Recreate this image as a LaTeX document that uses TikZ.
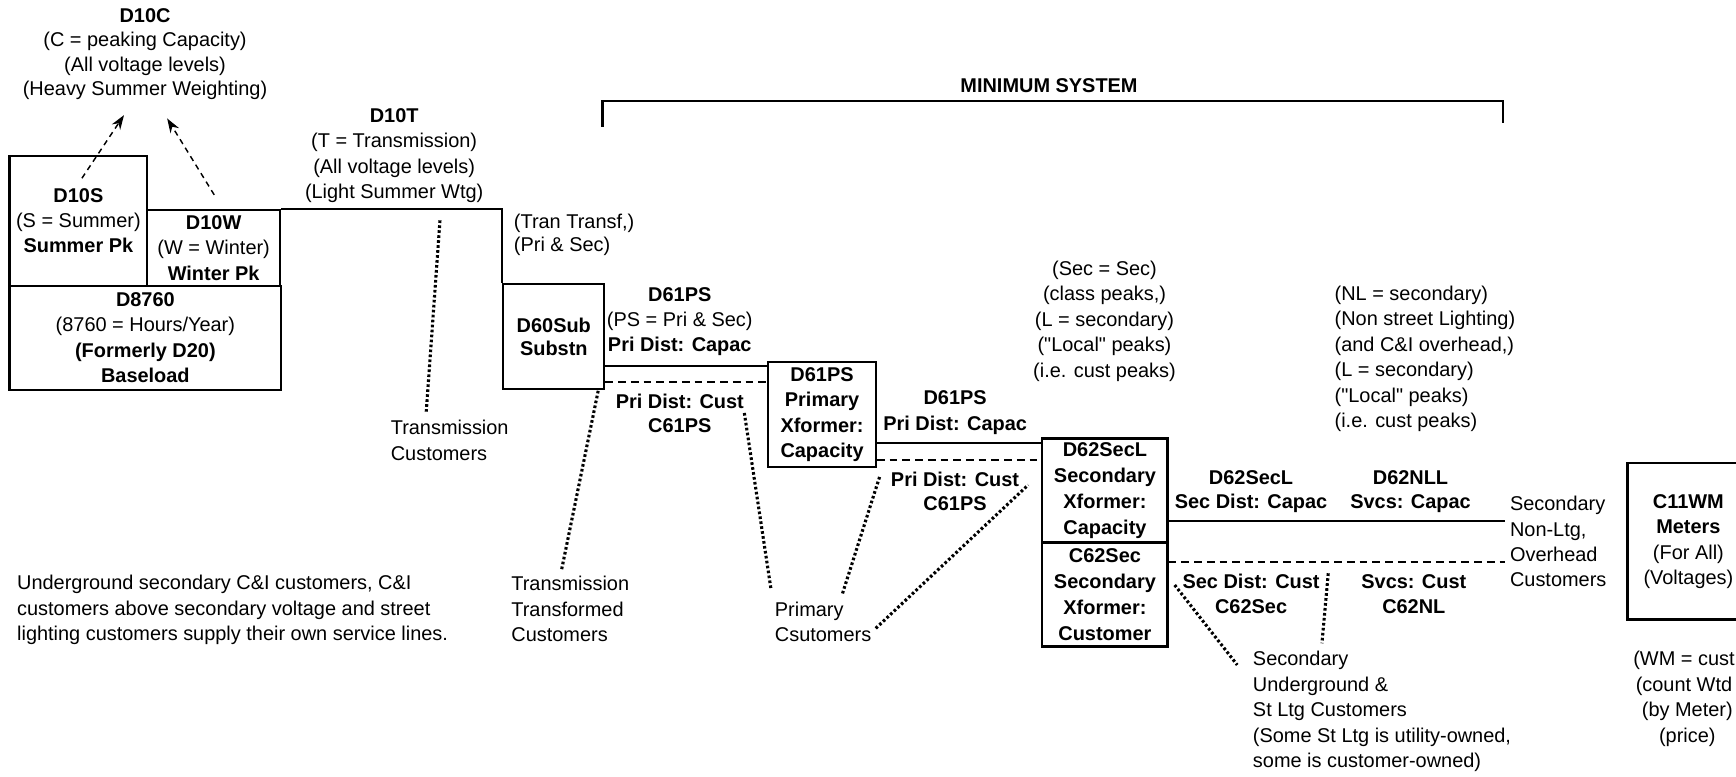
\documentclass[tikz,border=0pt]{standalone}
\usepackage{fontspec}
\setmainfont{Liberation Sans}
\usetikzlibrary{arrows.meta,calc}
\begin{document}
\begin{tikzpicture}[x=1pt,y=-1pt,
  every node/.style={inner sep=0pt, font=\fontsize{18}{23}\selectfont},
  box/.style={draw, line width=2pt, inner sep=0pt, align=center},
  txt/.style={align=center},
  ltxt/.style={align=left, anchor=west},
  solidline/.style={line width=1.8pt},
  dashline/.style={line width=1.8pt, dash pattern=on 7pt off 4.5pt},
  dotline/.style={line width=2.8pt, dash pattern=on 2.4pt off 2.1pt},
  dasharrow/.style={line width=1.3pt, dash pattern=on 5pt off 4pt, -{Stealth[length=13pt,width=9pt]}},
  bracket/.style={line width=2.2pt}]
\useasboundingbox[fill=white] (0,0) rectangle (1568,701);

% ---------- boxes ----------
\node[box, minimum width=124.4pt, minimum height=117.4pt] (d10s) at (70.8,199.3)
  {\textbf{D10S}\\(S = Summer)\\\textbf{Summer Pk}};
\node[box, minimum width=120pt, minimum height=68pt] (d10w) at (193,224)
  {\textbf{D10W}\\(W = Winter)\\\textbf{Winter Pk}};
\node[box, minimum width=245.4pt, minimum height=94pt] (d8760) at (131.3,305)
  {\textbf{D8760}\\(8760 = Hours/Year)\\\textbf{(Formerly D20)}\\\textbf{Baseload}};
\node[box, font=\fontsize{18}{21}\selectfont\bfseries, minimum width=91.3pt, minimum height=95.2pt] (d60) at (500.2,304)
  {D60Sub\\Substn};
\node[box, font=\fontsize{18}{23}\selectfont\bfseries, minimum width=97pt, minimum height=95.3pt] (d61) at (742.5,374.3)
  {D61PS\\Primary\\Xformer:\\Capacity};
\node[box, font=\fontsize{18}{23.5}\selectfont\bfseries, minimum width=113pt, minimum height=94pt] (d62) at (998,443)
  {D62SecL\\Secondary\\Xformer:\\Capacity};
\node[box, font=\fontsize{18}{23.5}\selectfont\bfseries, minimum width=113pt, minimum height=94pt] (c62) at (998,537)
  {C62Sec\\Secondary\\Xformer:\\Customer};
\node[box, minimum width=110pt, minimum height=141pt] (c11) at (1525,489)
  {\textbf{C11WM}\\\textbf{Meters}\\(For All)\\(Voltages)};

% ---------- texts ----------
\node[txt, font=\fontsize{18}{22}\selectfont] (d10c) at (131,49)
  {\textbf{D10C}\\(C = peaking Capacity)\\(All voltage levels)\\(Heavy Summer Weighting)};
\node[txt] (d10t) at (356,140.5)
  {\textbf{D10T}\\(T = Transmission)\\(All voltage levels)\\(Light Summer Wtg)};
\node[ltxt, font=\fontsize{18}{21}\selectfont] (tran) at (464,212)
  {(Tran Transf,)\\(Pri \& Sec)};
\node[font=\fontsize{18}{23}\selectfont\bfseries] (mins) at (947.5,77) {MINIMUM SYSTEM};
\node[txt] (l61a) at (614,290.5)
  {\textbf{D61PS}\\(PS = Pri \& Sec)\\\textbf{Pri Dist: Capac}};
\node[txt, font=\fontsize{18}{21.5}\selectfont\bfseries] (l61b) at (614,373.4) {Pri Dist: Cust\\C61PS};
\node[txt, font=\fontsize{18}{23}\selectfont\bfseries] (l61c) at (862.7,372.5) {D61PS\\Pri Dist: Capac};
\node[txt, font=\fontsize{18}{22}\selectfont\bfseries] (l61d) at (862.6,444) {Pri Dist: Cust\\C61PS};
\node[txt] (secsec) at (997.6,290)
  {(Sec = Sec)\\(class peaks,)\\(L = secondary)\\(\textquotedbl Local\textquotedbl\ peaks)\\(i.e. cust peaks)};
\node[ltxt] (nl) at (1205.3,324.2)
  {(NL = secondary)\\(Non street Lighting)\\(and C\&I overhead,)\\(L = secondary)\\(\textquotedbl Local\textquotedbl\ peaks)\\(i.e. cust peaks)};
\node[txt, font=\fontsize{18}{21.5}\selectfont\bfseries] (l62a) at (1130,443.8) {D62SecL\\Sec Dist: Capac};
\node[txt, font=\fontsize{18}{21.5}\selectfont\bfseries] (l62b) at (1274,443.8) {D62NLL\\Svcs: Capac};
\node[txt, font=\fontsize{18}{23}\selectfont\bfseries] (l62c) at (1130,536.4) {Sec Dist: Cust\\C62Sec};
\node[txt, font=\fontsize{18}{23}\selectfont\bfseries] (l62d) at (1277,536.4) {Svcs: Cust\\C62NL};
\node[ltxt] (snl) at (1363.7,489.2) {Secondary\\Non-Ltg,\\Overhead\\Customers};
\node[ltxt] (sug) at (1131.5,642.8)
  {Secondary\\Underground \&\\St Ltg Customers\\(Some St Ltg is utility-owned,\\some is customer-owned)};
\node[txt] (wm) at (1524,631.3) {(WM = cust\phantom{)}\\(count Wtd\phantom{)}\\(by Meter)\\(price)};
\node[ltxt] (tc) at (352.8,397.7) {Transmission\\Customers};
\node[ltxt] (ttc) at (461.7,550.3) {Transmission\\Transformed\\Customers};
\node[ltxt] (pc) at (699.7,561.5) {Primary\\Csutomers};
\node[ltxt] (ug) at (15.3,551.2)
  {Underground secondary C\&I customers, C\&I\\customers above secondary voltage and street\\lighting customers supply their own service lines.};

% ---------- helper coordinates ----------
\coordinate (ya) at (0,330.6);
\coordinate (yb) at (0,345.4);
\coordinate (yc) at (0,399.8);
\coordinate (yd) at (0,415.5);
\coordinate (ye) at (0,471);
\coordinate (yf) at (0,507.3);
\coordinate (endE) at (1359,471);
\coordinate (endF) at (1359,507.3);
\coordinate (brL) at (544.2,114.4);
\coordinate (brR) at (1357.7,111.4);
\coordinate (brY) at (0,91);
\coordinate (a1s) at (74,161);
\coordinate (a1e) at (112,104);
\coordinate (a2s) at (193.5,176);
\coordinate (a2e) at (151,107);
\coordinate (t1s) at (397.4,199);
\coordinate (t1e) at (385,371.8);
\coordinate (t2s) at (540.3,353);
\coordinate (t2e) at (507.2,514.8);
\coordinate (p1s) at (672.3,373);
\coordinate (p1e) at (696.5,533);
\coordinate (p2s) at (761,536);
\coordinate (p2e) at (795,429);
\coordinate (p3s) at (791,567.5);
\coordinate (p3e) at (928.7,438);
\coordinate (s1s) at (1061,528.4);
\coordinate (s1e) at (1117.5,600.6);
\coordinate (s2s) at (1199.7,517.8);
\coordinate (s2e) at (1194,581);

% ---------- connectors ----------
\draw[solidline] (d10w.north east) -- (d60.north west |- d10w.north east) -- (d60.north west);
\draw[solidline] (d60.east |- ya) -- (d61.west |- ya);
\draw[dashline] (d60.east |- yb) -- (d61.west |- yb);
\draw[solidline] (d61.east |- yc) -- (d62.west |- yc);
\draw[dashline] (d61.east |- yd) -- (d62.west |- yd);
\draw[solidline] (d62.east |- ye) -- (endE);
\draw[dashline] (c62.east |- yf) -- (endF);
\draw[bracket] (brL) -- (brL |- brY) -- (brR |- brY) -- (brR);
\draw[dasharrow] (a1s) -- (a1e);
\draw[dasharrow] (a2s) -- (a2e);
\draw[dotline] (t1s) -- (t1e);
\draw[dotline] (t2s) -- (t2e);
\draw[dotline] (p1s) -- (p1e);
\draw[dotline] (p2s) -- (p2e);
\draw[dotline] (p3s) -- (p3e);
\draw[dotline] (s1s) -- (s1e);
\draw[dotline] (s2s) -- (s2e);
\end{tikzpicture}
\end{document}
